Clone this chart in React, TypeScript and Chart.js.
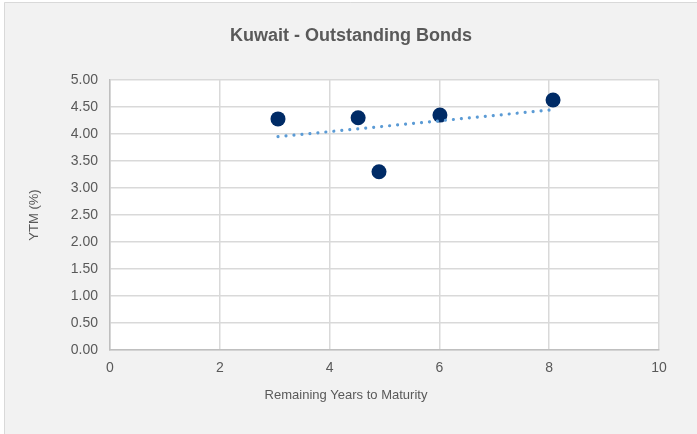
import React, { useEffect, useRef } from "react";
import { Chart, registerables } from "chart.js";

Chart.register(...registerables);

const chartTitle = "Kuwait - Outstanding Bonds";
const xAxisTitle = "Remaining Years to Maturity";
const yAxisTitle = "YTM (%)";

// Bonds: remaining years to maturity and yield to maturity (%)
const bondYears = [3.06, 4.52, 4.9, 6.01, 8.07];
const bondYtm = [4.28, 4.3, 3.3, 4.35, 4.63];

// Linear trendline endpoints
const trendYears = [3.06, 8.07];
const trendYtm = [3.95, 4.45];

const xMin = 0;
const xMax = 10;
const xStep = 2;
const yMin = 0;
const yMax = 5;
const yStep = 0.5;

const TEXT = "#595959";
const FONT = "'Liberation Sans', Arial, sans-serif";

const backgroundPlugin = {
  id: "bgPlugin",
  beforeDraw(chart: any) {
    const { ctx, width, height, chartArea } = chart;
    ctx.save();
    ctx.fillStyle = "#ffffff";
    ctx.fillRect(0, 0, width, height);
    ctx.fillStyle = "#f2f2f2";
    ctx.fillRect(4, 2, width - 4, height - 2);
    ctx.strokeStyle = "#d9d9d9";
    ctx.lineWidth = 1;
    ctx.beginPath();
    ctx.moveTo(4.5, height);
    ctx.lineTo(4.5, 2.5);
    ctx.lineTo(width, 2.5);
    ctx.stroke();
    ctx.fillStyle = "#ffffff";
    ctx.fillRect(
      chartArea.left,
      chartArea.top,
      chartArea.right - chartArea.left,
      chartArea.bottom - chartArea.top
    );
    ctx.restore();
  },
};

const textPlugin = {
  id: "textPlugin",
  afterDraw(chart: any) {
    const { ctx } = chart;
    ctx.save();
    ctx.fillStyle = TEXT;
    ctx.textAlign = "center";
    ctx.textBaseline = "middle";
    ctx.font = `bold 18px ${FONT}`;
    ctx.fillText(chartTitle, 351, 36);
    ctx.font = `13px ${FONT}`;
    ctx.fillText(xAxisTitle, 346, 395);
    ctx.restore();
  },
};

export default function App() {
  const canvasRef = useRef<HTMLCanvasElement | null>(null);

  useEffect(() => {
    if (!canvasRef.current) return;
    const chart = new Chart(canvasRef.current, {
      type: "scatter",
      data: {
        datasets: [
          {
            label: "Bonds",
            data: bondYears.map((x, i) => ({ x, y: bondYtm[i] })),
            backgroundColor: "#002b66",
            borderWidth: 0,
            pointRadius: 7.5,
            pointHoverRadius: 7.5,
            order: 2,
          },
          {
            label: "Trend",
            type: "line",
            data: trendYears.map((x, i) => ({ x, y: trendYtm[i] })),
            borderColor: "#5b9bd5",
            borderWidth: 3.2,
            borderDash: [0.01, 8],
            borderCapStyle: "round",
            pointRadius: 0,
            fill: false,
            order: 1,
          } as any,
        ],
      },
      options: {
        responsive: false,
        animation: false,
        devicePixelRatio: 1,
        layout: { padding: { left: 0, right: 38, top: 80, bottom: 0 } },
        plugins: {
          legend: { display: false },
          tooltip: { enabled: false },
          title: { display: false },
        },
        scales: {
          x: {
            type: "linear",
            min: xMin,
            max: xMax,
            ticks: {
              stepSize: xStep,
              color: TEXT,
              font: { family: FONT, size: 14 },
              padding: 10,
            },
            grid: { color: "#d9d9d9", lineWidth: 1.5, drawTicks: false },
            border: { color: "#bfbfbf", width: 1.5 },
            title: { display: false, text: xAxisTitle },
            afterFit(scale: any) {
              scale.height = 84;
            },
          },
          y: {
            type: "linear",
            min: yMin,
            max: yMax,
            ticks: {
              stepSize: yStep,
              color: TEXT,
              font: { family: FONT, size: 14 },
              padding: 12,
              callback: (v: any) => Number(v).toFixed(2),
            },
            grid: { color: "#d9d9d9", lineWidth: 1.5, drawTicks: false },
            border: { color: "#bfbfbf", width: 1.5 },
            title: {
              display: true,
              text: yAxisTitle,
              color: TEXT,
              font: { family: FONT, size: 13 },
              padding: { top: 27, bottom: 0 },
            },
            afterFit(scale: any) {
              scale.width = 110;
            },
          },
        },
      },
      plugins: [backgroundPlugin, textPlugin],
    });
    return () => chart.destroy();
  }, []);

  return (
    <div style={{ position: "fixed", left: 0, top: 0, width: 697, height: 434, background: "#fff" }}>
      <canvas ref={canvasRef} width={697} height={434} style={{ display: "block", width: 697, height: 434 }} />
    </div>
  );
}
